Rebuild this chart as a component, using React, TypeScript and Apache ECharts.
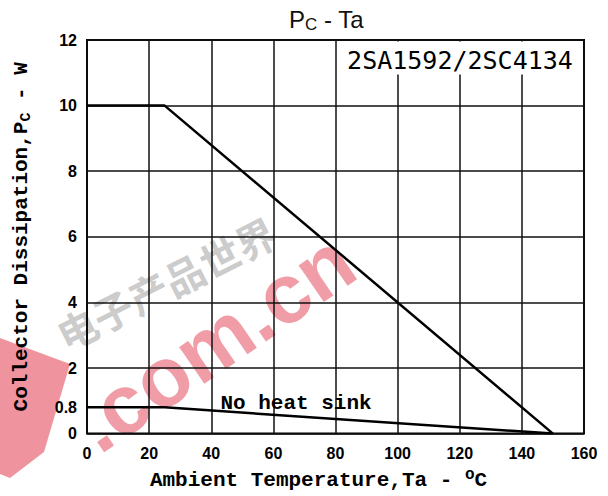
import React, { useEffect, useRef } from "react";
import * as echarts from "echarts";

const withSink: [number, number][] = [[0, 10], [25, 10], [150, 0]];
const noSink: [number, number][] = [[0, 0.8], [25, 0.8], [150, 0]];
const yTickLabels = [0, 0.8, 2, 4, 6, 8, 10, 12];
const xTicks = [0, 20, 40, 60, 80, 100, 120, 140, 160];

const MONO = "'Liberation Mono', 'DejaVu Sans Mono', monospace";

export default function App() {
  const ref = useRef<HTMLDivElement>(null);
  useEffect(() => {
    if (!ref.current) return;
    const chart = echarts.init(ref.current, null, { renderer: "svg" });
    chart.setOption({
      animation: false,
      backgroundColor: "#fff",
      title: {
        text: "P{sub|C} - Ta",
        left: 284,
        top: 1,
        textStyle: {
          fontFamily: "'Liberation Sans', sans-serif",
          fontWeight: "normal",
          fontSize: 24,
          color: "#111",
          rich: {
            sub: { fontSize: 17, padding: [10, 0, 0, 0], color: "#111", fontFamily: "'Liberation Sans', sans-serif" },
          },
        },
      },
      grid: {
        left: 87,
        right: 24,
        top: 40,
        bottom: 55,
        show: true,
        borderColor: "#000",
        borderWidth: 2,
        backgroundColor: "transparent",
      },
      xAxis: {
        type: "value",
        min: 0,
        max: 160,
        interval: 20,
        name: "Ambient Temperature,Ta - {sup|o}C",
        nameLocation: "middle",
        nameGap: 28,
        nameTextStyle: {
          fontFamily: MONO,
          fontWeight: "bold",
          fontSize: 21,
          color: "#000",
          padding: [0, 34, 0, 0],
          rich: {
            sup: { fontFamily: MONO, fontSize: 16, padding: [0, 0, 12, 0], color: "#000", fontWeight: "bold" },
          },
        },
        axisLine: { show: false },
        axisTick: { show: false },
        splitLine: { show: true, lineStyle: { color: "#111", width: 1.5 } },
        axisLabel: {
          margin: 12,
          fontFamily: "'Liberation Sans Narrow', 'Liberation Sans', sans-serif",
          fontWeight: "bold",
          fontSize: 16,
          color: "#000",
          customValues: xTicks,
        },
      },
      yAxis: {
        type: "value",
        min: 0,
        max: 12,
        interval: 2,
        name: "Collector Dissipation,P{sub|C} - W",
        nameLocation: "middle",
        nameGap: 53,
        nameTextStyle: {
          fontFamily: MONO,
          fontWeight: "bold",
          fontSize: 21,
          color: "#000",
          rich: {
            sub: { fontFamily: MONO, fontSize: 15, padding: [10, 0, 0, 0], color: "#000", fontWeight: "bold" },
          },
        },
        axisLine: { show: false },
        axisTick: { show: false },
        splitLine: { show: true, lineStyle: { color: "#111", width: 1.5 } },
        axisLabel: {
          margin: 10,
          fontFamily: "'Liberation Sans Narrow', 'Liberation Sans', sans-serif",
          fontWeight: "bold",
          fontSize: 16,
          color: "#000",
          customValues: yTickLabels,
        },
      },
      graphic: [
        {
          type: "polygon",
          z: -5,
          shape: { points: [[0, 338], [70, 364], [44, 452], [10, 478], [0, 474]] },
          style: { fill: "rgba(225,60,80,0.55)" },
          silent: true,
        },
        {
          type: "text",
          z: -5,
          x: 214,
          y: 342,
          rotation: 0.6,
          style: {
            text: ".com.cn",
            fontFamily: "'Liberation Sans', Arial, sans-serif",
            fontWeight: "bold",
            fontSize: 84,
            fill: "rgba(225,60,80,0.5)",
            align: "center",
            verticalAlign: "middle",
          },
          silent: true,
        },
        {
          type: "text",
          z: -5,
          x: 166,
          y: 283,
          rotation: 0.47,
          style: {
            text: "电子产品世界",
            fontFamily: "'Noto Sans CJK SC', sans-serif",
            fontWeight: "bold",
            fontSize: 40,
            fill: "rgba(140,140,140,0.45)",
            align: "center",
            verticalAlign: "middle",
          },
          silent: true,
        },
        {
          type: "rect",
          z: 50,
          shape: { x: 338, y: 41.5, width: 245, height: 33 },
          style: { fill: "#fff" },
          silent: true,
        },
        {
          type: "text",
          z: 51,
          x: 460,
          y: 60,
          style: {
            text: "2SA1592/2SC4134",
            fontFamily: "'DejaVu Sans Mono', monospace",
            fontSize: 25,
            fill: "#000",
            align: "center",
            verticalAlign: "middle",
          },
          silent: true,
        },
        {
          type: "text",
          z: 51,
          x: 296,
          y: 403,
          style: {
            text: "No heat sink",
            fontFamily: MONO,
            fontWeight: "bold",
            fontSize: 21,
            fill: "#000",
            align: "center",
            verticalAlign: "middle",
          },
          silent: true,
        },
      ],
      series: [
        {
          type: "line",
          data: withSink,
          symbol: "none",
          lineStyle: { color: "#000", width: 2.5 },
          z: 10,
        },
        {
          type: "line",
          data: noSink,
          symbol: "none",
          lineStyle: { color: "#000", width: 2.5 },
          z: 10,
        },
      ],
    });
    return () => chart.dispose();
  }, []);
  return (
    <div
      ref={ref}
      style={{ position: "fixed", left: 0, top: 0, width: 608, height: 496, background: "#fff" }}
    />
  );
}
